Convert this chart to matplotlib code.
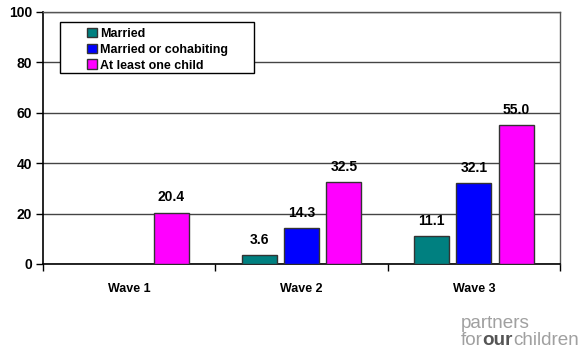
import numpy as np
import matplotlib.pyplot as plt
from matplotlib.patches import Rectangle

waves = ["Wave 1", "Wave 2", "Wave 3"]
series = ["Married", "Married or cohabiting", "At least one child"]
married = [np.nan, 3.6, 11.1]
cohabiting = [np.nan, 14.3, 32.1]
child = [20.4, 32.5, 55.0]
colors = ["#008080", "#0000FF", "#FF00FF"]

plt.rcParams['font.family'] = ['Liberation Sans', 'DejaVu Sans']
plt.rcParams['font.weight'] = 'bold'

fig = plt.figure(figsize=(5.81, 3.51), dpi=100)
ax = fig.add_axes([0.074, 0.248, 0.89, 0.718])

x = np.arange(len(waves))
w = 0.203
step = 0.245
for i, (vals, c, name) in enumerate(zip([married, cohabiting, child], colors, series)):
    pos = x + (i - 1) * step
    bars = ax.bar(pos, vals, width=w, color=c, edgecolor='#333333', linewidth=1,
                  label=name, zorder=3)
    for p, v in zip(pos, vals):
        if not np.isnan(v):
            ax.annotate(f"{v:.1f}", (p, v), xytext=(0, 6), textcoords='offset points',
                        ha='center', va='bottom', fontsize=10, fontweight='bold', zorder=4)

ax.set_xlim(-0.5, 2.5)
ax.set_ylim(0, 100)
ax.set_yticks(range(0, 101, 20))
ax.set_xticks(x)
ax.set_xticklabels(waves)
ax.set_xticks([-0.5, 0.5, 1.5, 2.5], minor=True)
ax.tick_params(axis='x', which='major', length=0, pad=14, labelsize=9)
ax.tick_params(axis='x', which='minor', length=5, width=1, direction='out')
ax.tick_params(axis='y', length=5, width=1, labelsize=10, pad=3)
for lab in ax.get_xticklabels() + ax.get_yticklabels():
    lab.set_fontweight('bold')

ax.yaxis.grid(True, color='#444444', linewidth=1, zorder=0)
for s in ['left', 'bottom']:
    ax.spines[s].set_color('black')
    ax.spines[s].set_linewidth(1.2)
for s in ['top', 'right']:
    ax.spines[s].set_color('#555555')
    ax.spines[s].set_linewidth(1)

# legend box (drawn separately for the wide left padding)
box = Rectangle((0.033, 0.758), 0.375, 0.202, transform=ax.transAxes,
                facecolor='white', edgecolor='black', linewidth=1, zorder=5)
ax.add_patch(box)
leg = ax.legend(loc='upper left', bbox_to_anchor=(0.068, 0.972), frameon=False,
                handlelength=0.8, handleheight=0.8, handletextpad=0.25,
                labelspacing=0.3, borderpad=0.2, prop={'weight': 'bold', 'size': 9})
leg.set_zorder(6)

# logo text
fs = 13.6
t1 = fig.text(0.793, 0.066, "partners", color='#a0a0a0', fontsize=fs, fontweight='normal',
              va='baseline', ha='left')
t2 = fig.text(0.793, 0.018, "for", color='#a0a0a0', fontsize=fs, fontweight='normal',
              va='baseline', ha='left')
t3 = ax.annotate("our", xy=(1, 0), xycoords=t2, va='bottom', ha='left',
                 color='#555555', fontsize=fs, fontweight='bold', annotation_clip=False)
t4 = ax.annotate("children", xy=(1, 0), xycoords=t3, va='bottom', ha='left',
                 color='#a0a0a0', fontsize=fs, fontweight='normal', annotation_clip=False)

fig.savefig("out.png", dpi=100)
